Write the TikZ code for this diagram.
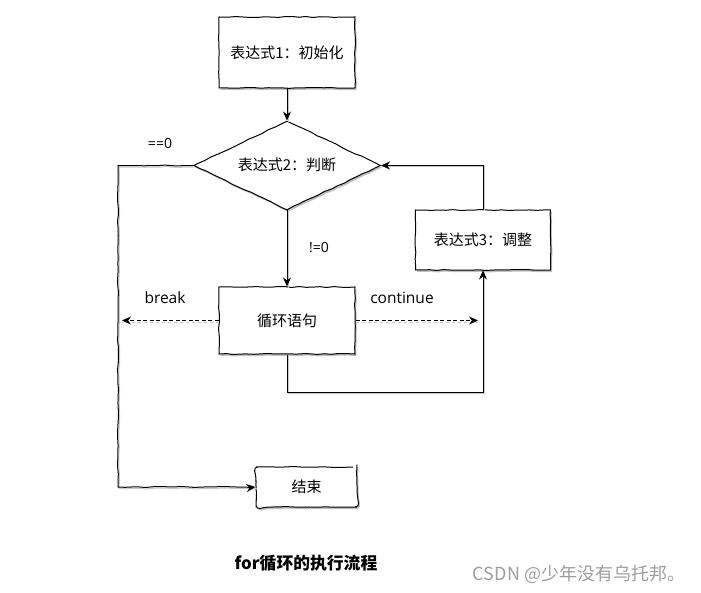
\documentclass[tikz,border=0pt]{standalone}
\usepackage{fontspec}
\setmainfont{Open Sans}
\newfontfamily\cjk{Noto Sans CJK SC}
\usetikzlibrary{arrows.meta,decorations.pathmorphing,shadows,shapes.geometric}
\begin{document}
\begin{tikzpicture}[x=1pt,y=-1pt,
  sk/.style={decorate,decoration={random steps,segment length=7pt,amplitude=0.5pt}},
  shd/.style={drop shadow={shadow xshift=1.5pt,shadow yshift=-2pt,opacity=0.25,fill=black}},
  boxnode/.style={draw=black,line width=1pt,fill=white,sk,shd,font=\cjk\fontsize{15}{17}\selectfont,inner sep=0pt},
  arr/.style={line width=1pt,-{Stealth[length=9pt,width=8pt]},preaction={draw=black!22,line width=1pt,-,transform canvas={shift={(1.2pt,-1.5pt)}}}},
  darr/.style={line width=1pt,dashed,dash pattern=on 4pt off 2.5pt,-{Stealth[length=9pt,width=8pt]},preaction={draw=black!22,line width=1pt,-,dashed,transform canvas={shift={(0pt,-1.8pt)}}}},
  lbl/.style={font=\fontsize{15.5}{17}\selectfont,inner sep=0pt},
  slbl/.style={font=\fontsize{14}{16}\selectfont,inner sep=0pt}]
\pgfmathsetseed{7}
\useasboundingbox (0,0) rectangle (701,593);
% nodes
\node[boxnode,minimum width=136pt,minimum height=71pt] (init) at (287,52.5) {表达式1：初始化};
\node[boxnode,diamond,minimum width=187pt,minimum height=89pt] (cond) at (287,165.5) {};
\node[font=\cjk\fontsize{15}{17}\selectfont] (condt) at (287,165) {表达式2：判断};
\node[boxnode,minimum width=136pt,minimum height=67pt] (body) at (287,320.5) {循环语句};
\node[boxnode,minimum width=135pt,minimum height=60pt] (adj) at (483,240) {表达式3：调整};
\node[boxnode,rounded corners=4pt,minimum width=101pt,minimum height=40pt] (end) at (306.5,487) {结束};
% labels
\node[slbl] (eq0) at (160,143) {==0};
\node[slbl] (ne0) at (319,248) {!=0};
\node[lbl] (brk) at (165,298) {break};
\node[lbl] (cnt) at (402,298) {continue};
\node[font=\cjk\bfseries\fontsize{16.8}{19}\selectfont] (title) at (306,563) {for循环的执行流程};
\node[font=\cjk\fontsize{18}{20}\selectfont,text=black!38] (wm) at (579,574) {CSDN @少年没有乌托邦。};
% coordinates
\coordinate (c1) at (118,165.5);
\coordinate (c2) at (118,487);
\coordinate (c3) at (287,392);
\coordinate (c4) at (483,392);
\coordinate (bk) at (122,320.5);
\coordinate (ct) at (478,320.5);
% connectors
\draw[arr] (init.south) -- (cond.north);
\draw[arr,sk] (cond.west) -- (c1) -- (c2) -- (end.west);
\draw[arr] (cond.south) -- (body.north);
\draw[arr] (adj.north) |- (cond.east);
\draw[arr] (body.south) -- (c3) -- (c4) -- (adj.south);
\draw[darr] (body.west) -- (bk);
\draw[darr] (body.east) -- (ct);
\end{tikzpicture}
\end{document}
